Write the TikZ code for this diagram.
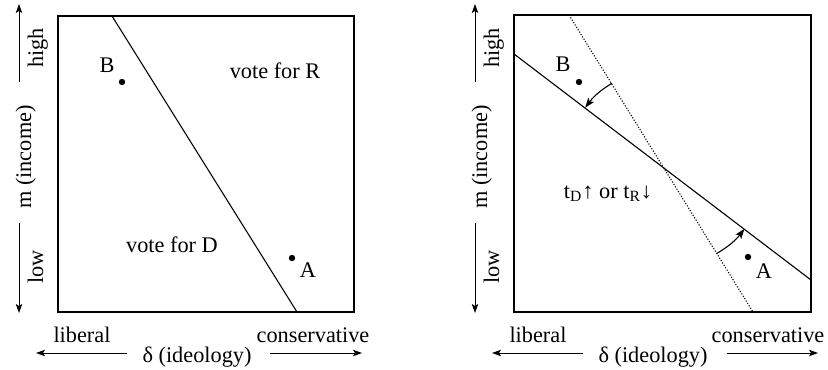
\documentclass[tikz,border=0pt]{standalone}
\usepackage{fontspec}
\setmainfont{Liberation Serif}
\usetikzlibrary{arrows.meta}
\begin{document}
\begin{tikzpicture}[x=0.5pt,y=-0.5pt,
  every node/.style={font=\fontsize{11.15pt}{13pt}\selectfont,inner sep=0pt,anchor=base},
  frame/.style={line width=0.55pt},
  bound/.style={line width=0.55pt},
  shifted/.style={line width=0.55pt,dash pattern=on 0.55pt off 0.85pt},
  axisarrow/.style={line width=0.5pt,-{Stealth[length=4.5pt,width=3.2pt,inset=1pt]}},
  turn/.style={line width=0.55pt,-{Stealth[length=5pt,width=3.6pt,inset=1.2pt]}},
  vlabel/.style={rotate=90,anchor=base},
  dot/.style={circle,fill=black,inner sep=0pt,minimum size=3.2pt,anchor=center}]
\useasboundingbox (0,0) rectangle (828,369);
% ---------- left panel ----------
\coordinate (L1) at (58,16);
\coordinate (L2) at (354,312);
\draw[frame] (L1) rectangle (L2);
\coordinate (Lt) at (112,16);
\coordinate (Lb) at (297,312);
\draw[bound] (Lt) -- (Lb);
\node[dot] (LBd) at (122,82) {};
\node (LB) at (107,73) {B};
\node[dot] (LAd) at (292,258) {};
\node (LA) at (308,277) {A};
\node (LR) at (275,78) {vote for R};
\node (LD) at (172,252) {vote for D};
% axes
\coordinate (Lu0) at (19,82); \coordinate (Lu1) at (19,4);
\coordinate (Ld0) at (19,223); \coordinate (Ld1) at (19,313);
\draw[axisarrow] (Lu0) -- (Lu1);
\draw[axisarrow] (Ld0) -- (Ld1);
\node[vlabel] (Lhigh) at (43,48) {high};
\node[vlabel] (Llow) at (43,267) {low};
\node[vlabel] (Lm) at (31,157) {m (income)};
\coordinate (Ll0) at (127,353); \coordinate (Ll1) at (36,353);
\coordinate (Lr0) at (270,353); \coordinate (Lr1) at (362,353);
\draw[axisarrow] (Ll0) -- (Ll1);
\draw[axisarrow] (Lr0) -- (Lr1);
\node (Llib) at (82,342) {liberal};
\node (Lcon) at (313,342) {conservative};
\node (Ldel) at (197,362) {δ (ideology)};
% ---------- right panel ----------
\coordinate (R1) at (514,15);
\coordinate (R2) at (811,312);
\draw[frame] (R1) rectangle (R2);
\coordinate (Rs0) at (514,54);
\coordinate (Rs1) at (811,280);
\draw[bound] (Rs0) -- (Rs1);
\coordinate (Rd0) at (569,15);
\coordinate (Rd1) at (753,312);
\draw[shifted] (Rd0) -- (Rd1);
\coordinate (P1) at (611.8,83.3);
\coordinate (P2) at (585.2,107.7);
\coordinate (Q1) at (717.1,253.3);
\coordinate (Q2) at (744.4,228.9);
\draw[turn] (P1) to[bend right=10.5] (P2);
\draw[turn] (Q1) to[bend right=10.5] (Q2);
\node[dot] (RBd) at (579,82) {};
\node (RB) at (563,72) {B};
\node[dot] (RAd) at (748,257) {};
\node (RA) at (764,278) {A};
\node (Rt) at (608,198) {t\textsubscript{D}↑ or t\textsubscript{R}↓};
% axes
\coordinate (Ru0) at (475,82); \coordinate (Ru1) at (475,4);
\coordinate (Rdn0) at (475,223); \coordinate (Rdn1) at (475,313);
\draw[axisarrow] (Ru0) -- (Ru1);
\draw[axisarrow] (Rdn0) -- (Rdn1);
\node[vlabel] (Rhigh) at (499,48) {high};
\node[vlabel] (Rlow) at (499,267) {low};
\node[vlabel] (Rm) at (487,157) {m (income)};
\coordinate (Rl0) at (583,353); \coordinate (Rl1) at (492,353);
\coordinate (Rr0) at (727,353); \coordinate (Rr1) at (818,353);
\draw[axisarrow] (Rl0) -- (Rl1);
\draw[axisarrow] (Rr0) -- (Rr1);
\node (Rlib) at (538,342) {liberal};
\node (Rcon) at (768,342) {conservative};
\node (Rdel) at (653,362) {δ (ideology)};
\end{tikzpicture}
\end{document}
